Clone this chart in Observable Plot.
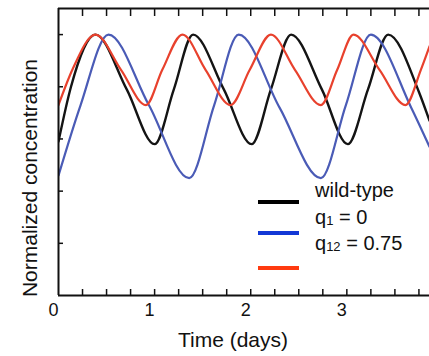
<!DOCTYPE html>
<html>
<head>
<meta charset="utf-8">
<script src="https://cdn.jsdelivr.net/npm/d3@7"></script>
<script src="https://cdn.jsdelivr.net/npm/@observablehq/plot@0.6"></script>
<style>
  html, body { margin: 0; padding: 0; background: #fff; }
  #wrap { position: relative; width: 429px; height: 356px; overflow: hidden; font-family: "Liberation Sans", Arial, sans-serif; }
  #legend { position: absolute; left: 0; top: 0; pointer-events: none; }
</style>
</head>
<body>
<div id="wrap"></div>
<script>
// ---- data ----
const seriesNames = ["wild-type", "q1 = 0", "q12 = 0.75"];
const seriesColors = ["#141414", "#4a5bb6", "#e8412d"];
const legendColors = ["#000000", "#1238d6", "#ff3a10"];

const tBlack = [0, 0.13, 0.385, 0.71, 1.0, 1.20, 1.40, 1.72, 2.01, 2.21, 2.42, 2.74, 3.01, 3.22, 3.43, 3.75, 3.86];
const vBlack = [0.59, 0.80, 1.00, 0.79, 0.58, 0.79, 1.00, 0.79, 0.58, 0.79, 1.00, 0.79, 0.58, 0.79, 1.00, 0.78, 0.67];

const tBlue = [0, 0.23, 0.52, 0.94, 1.36, 1.62, 1.875, 2.30, 2.73, 2.99, 3.25, 3.67, 3.86];
const vBlue = [0.46, 0.73, 1.00, 0.73, 0.45, 0.73, 1.00, 0.72, 0.45, 0.73, 1.00, 0.72, 0.57];

const tRed = [0, 0.15, 0.385, 0.65, 0.91, 1.08, 1.29, 1.53, 1.79, 1.99, 2.21, 2.46, 2.73, 2.90, 3.07, 3.34, 3.61, 3.77, 3.86];
const vRed = [0.73, 0.87, 1.00, 0.865, 0.73, 0.865, 1.00, 0.865, 0.73, 0.865, 1.00, 0.865, 0.73, 0.865, 1.00, 0.865, 0.73, 0.865, 0.955];

const xTickLabels = [0, 1, 2, 3];
const xMinorTicks = [0.25, 0.5, 0.75, 1, 1.25, 1.5, 1.75, 2, 2.25, 2.5, 2.75, 3, 3.25, 3.5, 3.75];
const yTicks = [0.2, 0.4, 0.6, 0.8, 1.0];
const xDomain = [0, 3.86];
const yDomain = [0, 1.1];

const xLabel = "Time (days)";
const yLabel = "Normalized concentration";

const legendMain = ["wild-type", "q", "q"];
const legendSub = ["", "1", "12"];
const legendRest = ["", " = 0", " = 0.75"];

// ---- build tables ----
const toRows = (ts, vs) => ts.map((t, i) => ({t, v: vs[i]}));
const black = toRows(tBlack, vBlack);
const blue = toRows(tBlue, vBlue);
const red = toRows(tRed, vRed);

const font = "'Liberation Sans', Arial, sans-serif";

const chart = Plot.plot({
  width: 429,
  height: 356,
  marginLeft: 58,
  marginRight: 0,
  marginTop: 8,
  marginBottom: 61,
  x: {domain: xDomain, axis: null, label: null},
  y: {domain: yDomain, axis: null, label: null},
  style: {fontFamily: font, fontSize: "18px", color: "#111", background: "white", overflow: "visible"},
  marks: [
    Plot.line(black, {x: "t", y: "v", stroke: seriesColors[0], strokeWidth: 2.4, curve: "monotone-x", clip: true}),
    Plot.line(blue, {x: "t", y: "v", stroke: seriesColors[1], strokeWidth: 2.2, curve: "monotone-x", clip: true}),
    Plot.line(red, {x: "t", y: "v", stroke: seriesColors[2], strokeWidth: 2.2, curve: "monotone-x", clip: true}),
    // frame (left, top, bottom)
    Plot.ruleX([xDomain[0]], {stroke: "#111", strokeWidth: 2}),
    Plot.ruleY([yDomain[0]], {stroke: "#111", strokeWidth: 2}),
    Plot.ruleY([yDomain[1]], {stroke: "#111", strokeWidth: 2}),
    // inward ticks
    Plot.axisX(xMinorTicks, {anchor: "bottom", tickSize: -6, tickFormat: () => "", label: null, stroke: "#111", strokeWidth: 1.5}),
    Plot.axisX(xMinorTicks, {anchor: "top", tickSize: -7, tickFormat: () => "", label: null, stroke: "#111", strokeWidth: 1.5}),
    Plot.axisY(yTicks, {anchor: "left", tickSize: -5, tickFormat: () => "", label: null, stroke: "#111", strokeWidth: 1.5}),
    // tick labels
    Plot.axisX(xTickLabels, {anchor: "bottom", tickSize: 0, tickPadding: 8, dx: -5, fontSize: 18, tickFormat: d => String(d), label: null, fill: "#111"}),
    // axis titles
    Plot.text([xLabel], {frameAnchor: "bottom", textAnchor: "middle", lineAnchor: "middle", dx: -11, dy: 45, fontSize: 21, fill: "#111"}),
    Plot.text([yLabel], {frameAnchor: "left", textAnchor: "middle", lineAnchor: "middle", rotate: -90, dx: -28, dy: 26, fontSize: 21, fill: "#111"})
  ]
});

const wrap = document.getElementById("wrap");
wrap.appendChild(chart);

// ---- legend (offset as in the reference) ----
const leg = d3.select(wrap).append("svg")
  .attr("id", "legend")
  .attr("width", 429).attr("height", 356);

const lineYs = [202, 233, 268];
const textYs = [197, 223.5, 250];
legendColors.forEach((c, i) => {
  leg.append("line")
    .attr("x1", 258).attr("x2", 299)
    .attr("y1", lineYs[i]).attr("y2", lineYs[i])
    .attr("stroke", c).attr("stroke-width", 4);
  const t = leg.append("text")
    .attr("x", 315).attr("y", textYs[i])
    .attr("font-family", font).attr("font-size", 20).attr("fill", "#111");
  t.append("tspan").text(legendMain[i]);
  if (legendSub[i]) {
    t.append("tspan").attr("font-size", 13).attr("dy", 1).text(legendSub[i]);
    t.append("tspan").attr("dy", -1).text(legendRest[i]);
  }
});
</script>
</body>
</html>
